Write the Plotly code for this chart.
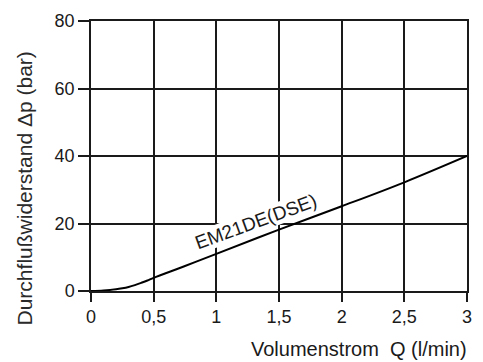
import plotly.graph_objects as go

# Data
flow_q = [0, 0.1, 0.2, 0.25, 0.3, 0.35, 0.4, 0.45, 0.5, 0.75, 1.0, 1.5, 2.0, 2.5, 3.0]
pressure_dp = [0, 0.15, 0.5, 0.8, 1.2, 1.75, 2.4, 3.1, 3.9, 7.4, 11.0, 18.2, 25.1, 32.2, 40.0]
x_ticks = [0, 0.5, 1, 1.5, 2, 2.5, 3]
x_tick_labels = ["0", "0,5", "1", "1,5", "2", "2,5", "3"]
y_ticks = [0, 20, 40, 60, 80]
y_tick_labels = ["0", "20", "40", "60", "80"]
curve_label = "EM21DE(DSE)"
x_title = "Volumenstrom  Q (l/min)"
y_title = "Durchflußwiderstand Δp (bar)"

FONT = "Liberation Sans, Arial, sans-serif"
INK = "#1a1a1a"

fig = go.Figure()
fig.add_trace(go.Scatter(
    x=flow_q, y=pressure_dp, mode="lines",
    line=dict(color="#000000", width=2, shape="spline", smoothing=1.0),
    hoverinfo="skip", showlegend=False,
))

axis_common = dict(
    showgrid=True, gridcolor=INK, gridwidth=1.5,
    showline=True, linecolor=INK, linewidth=1.5, mirror=True,
    zeroline=False, ticks="outside", tickcolor=INK, tickwidth=1.5,
    tickfont=dict(family=FONT, size=18, color=INK),
)

fig.update_xaxes(range=[0, 3], tickvals=x_ticks, ticktext=x_tick_labels,
                 ticklen=9, **axis_common)
fig.update_yaxes(range=[0, 80], tickvals=y_ticks, ticktext=y_tick_labels,
                 ticklen=11, **axis_common)

fig.add_annotation(
    x=1.317, y=20.6, xref="x", yref="y", text=curve_label, showarrow=False,
    textangle=-20, bgcolor="white", borderpad=0,
    font=dict(family=FONT, size=19, color=INK),
)
fig.add_annotation(
    x=1.006, y=-0.215, xref="paper", yref="paper", text=x_title, showarrow=False,
    xanchor="right", yanchor="middle",
    font=dict(family=FONT, size=20, color=INK),
)
fig.add_annotation(
    x=-0.178, y=0.38, xref="paper", yref="paper", text=y_title, showarrow=False,
    textangle=-90, xanchor="center", yanchor="middle",
    font=dict(family=FONT, size=21, color="#2a2a2a"),
)

fig.update_layout(
    width=483, height=362,
    margin=dict(l=91, r=11, t=16, b=71),
    paper_bgcolor="white", plot_bgcolor="white",
)

fig.write_html("out.html")
